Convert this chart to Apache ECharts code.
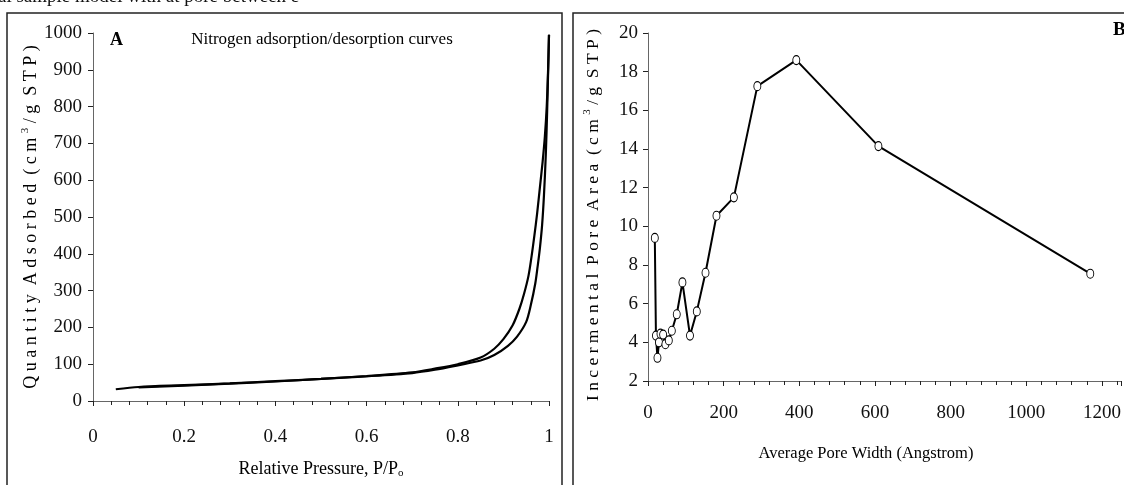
<!DOCTYPE html>
<html>
<head>
<meta charset="utf-8">
<script src="https://cdn.jsdelivr.net/npm/echarts@6/dist/echarts.min.js"></script>
<style>
html,body{margin:0;padding:0;background:#fff;}
#c{width:1124px;height:485px;}
</style>
</head>
<body>
<div id="c"></div>
<script>
// Panel A: nitrogen adsorption / desorption isotherm
const adsP = [0.05,0.1,0.2,0.3,0.4,0.5,0.6,0.7,0.75,0.8,0.85,0.88,0.91,0.93,0.95,0.96,0.97,0.975,0.98,0.985,0.989,0.993,0.996,0.998,1.0];
const adsQ = [32,38,43,48,54,60,67,76,85,97,110,125,150,175,215,260,320,365,415,480,560,670,790,890,995];
const desP = [1.0,0.998,0.995,0.991,0.986,0.98,0.974,0.968,0.962,0.955,0.945,0.935,0.92,0.9,0.88,0.85,0.8,0.75,0.7,0.6,0.5,0.4,0.3,0.2,0.1];
const desQ = [995,900,800,720,650,580,510,450,395,340,290,250,205,168,142,118,100,88,78,68,60,53,47,42,37];
// Panel B: incremental pore area vs average pore width
const poreWidth = [18,21,25,29,33,40,46,55,63,76,91,111,129,152,181,227,289,392,609,1169];
const poreArea  = [9.4,4.35,3.2,4.0,4.45,4.4,3.9,4.1,4.6,5.45,7.1,4.35,5.6,7.6,10.55,11.5,17.25,18.6,14.15,7.55];

const serif = '"Liberation Serif","Times New Roman",serif';
const axisCol = '#666';
const pairs = (xs, ys) => xs.map((x,i)=>[x, ys[i]]);
// letter-spaced words, words separated by a double gap
const spaced = s => s.split(' ').map(w => w.split('').join(' ')).join('  ');

const chart = echarts.init(document.getElementById('c'), null, {renderer:'canvas'});
chart.setOption({
  animation:false,
  backgroundColor:'#fff',
  grid:[
    {left:93, right:575, top:33, bottom:84, containLabel:false},
    {left:648, right:1.6, top:33, bottom:104, containLabel:false}
  ],
  xAxis:[
    {gridIndex:0, type:'value', min:0, max:1, interval:0.2,
     axisLine:{lineStyle:{color:axisCol,width:1}},
     axisTick:{length:5, lineStyle:{color:'#222'}},
     minorTick:{show:true, splitNumber:5, length:4, lineStyle:{color:'#222'}},
     splitLine:{show:false},
     axisLabel:{margin:27, color:'#111', fontFamily:serif, fontSize:19,
       formatter:v=>String(Math.round(v*10)/10)}},
    {gridIndex:1, type:'value', min:0, max:1250, interval:200,
     axisLine:{lineStyle:{color:axisCol,width:1}},
     axisTick:{length:5, lineStyle:{color:'#222'}},
     minorTick:{show:true, splitNumber:5, length:4, lineStyle:{color:'#222'}},
     splitLine:{show:false},
     axisLabel:{margin:23, color:'#111', fontFamily:serif, fontSize:19, showMaxLabel:false,
       formatter:v=>String(v)}}
  ],
  yAxis:[
    {gridIndex:0, type:'value', min:0, max:1000, interval:100,
     axisLine:{show:true, lineStyle:{color:axisCol,width:1}},
     axisTick:{show:true, length:5, lineStyle:{color:'#222'}},
     splitLine:{show:false},
     axisLabel:{margin:11, color:'#111', fontFamily:serif, fontSize:19, formatter:v=>String(v)}},
    {gridIndex:1, type:'value', min:2, max:20, interval:2,
     axisLine:{show:true, lineStyle:{color:axisCol,width:1}},
     axisTick:{show:true, length:5, lineStyle:{color:'#222'}},
     splitLine:{show:false},
     axisLabel:{margin:10, color:'#111', fontFamily:serif, fontSize:19, formatter:v=>String(v)}}
  ],
  series:[
    {type:'line', xAxisIndex:0, yAxisIndex:0, data:pairs(adsP, adsQ), showSymbol:false, smooth:0.3,
     lineStyle:{color:'#000', width:2.2}},
    {type:'line', xAxisIndex:0, yAxisIndex:0, data:pairs(desP, desQ), showSymbol:false, smooth:0.3,
     lineStyle:{color:'#000', width:2.2}},
    {type:'line', xAxisIndex:1, yAxisIndex:1, data:pairs(poreWidth, poreArea),
     symbol:'circle', symbolSize:[7,9], showSymbol:true,
     lineStyle:{color:'#000', width:2},
     itemStyle:{color:'#fff', borderColor:'#000', borderWidth:1}}
  ],
  graphic:[
    {type:'rect', shape:{x:7, y:13, width:555, height:480}, style:{fill:'none', stroke:'#222', lineWidth:1.5}, silent:true},
    {type:'rect', shape:{x:573, y:13, width:560, height:480}, style:{fill:'none', stroke:'#222', lineWidth:1.5}, silent:true},
    {type:'text', left:-2, top:-12, style:{text:'al sample model with at pore between e', font:'19px '+serif, fill:'#111'}},
    {type:'text', x:110, y:31, style:{text:'A', font:'bold 18px '+serif, fill:'#000'}},
    {type:'text', x:322, y:31, style:{text:'Nitrogen adsorption/desorption curves', font:'17px '+serif, fill:'#000', textAlign:'center'}},
    {type:'text', x:1113, y:21, style:{text:'B', font:'bold 19px '+serif, fill:'#000'}},
    {type:'text', x:321, y:459, style:{text:'Relative Pressure, P/P{s|o}', rich:{s:{fontSize:11, fontFamily:serif, padding:[9,0,0,0]}}, font:'18px '+serif, fill:'#000', textAlign:'center'}},
    {type:'text', x:866, y:445, style:{text:'Average Pore Width (Angstrom)', font:'16.5px '+serif, fill:'#000', textAlign:'center'}},
    {type:'text', x:31, y:217, rotation:Math.PI/2,
     style:{text:spaced('Quantity Adsorbed (cm')+' {s|3} '+spaced('/g STP)'), rich:{s:{fontSize:11, fontFamily:serif, padding:[0,0,11,0]}}, font:'18px '+serif, fill:'#000', textAlign:'center', textVerticalAlign:'middle'}},
    {type:'text', x:593, y:215, rotation:Math.PI/2,
     style:{text:spaced('Incermental Pore Area (cm')+' {s|3} '+spaced('/g STP)'), rich:{s:{fontSize:11, fontFamily:serif, padding:[0,0,11,0]}}, font:'17.5px '+serif, fill:'#000', textAlign:'center', textVerticalAlign:'middle'}}
  ]
});
</script>
</body>
</html>
